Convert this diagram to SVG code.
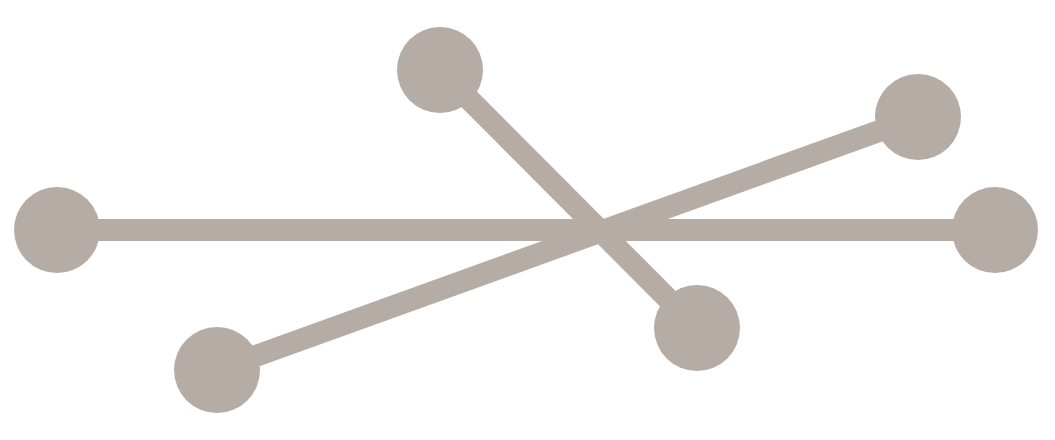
<svg xmlns="http://www.w3.org/2000/svg" width="1055" height="440" viewBox="0 0 1055 440">
<style>
.c{fill:#b5ada5}
.l{stroke:#b5ada5;stroke-width:22;fill:none}
</style>
<rect width="1055" height="440" fill="#fff"/>
<g id="connectors">
<line class="l" x1="57" y1="230" x2="995" y2="230"/>
<line class="l" x1="440" y1="70" x2="697" y2="328"/>
<line class="l" x1="217" y1="370" x2="918" y2="117"/>
</g>
<g id="n1"><circle class="c" cx="57" cy="230" r="43"/></g>
<g id="n2"><circle class="c" cx="995" cy="230" r="43"/></g>
<g id="n3"><circle class="c" cx="440" cy="70" r="43"/></g>
<g id="n4"><circle class="c" cx="918" cy="117" r="43"/></g>
<g id="n5"><circle class="c" cx="697" cy="328" r="43"/></g>
<g id="n6"><circle class="c" cx="217" cy="370" r="43"/></g>
</svg>
